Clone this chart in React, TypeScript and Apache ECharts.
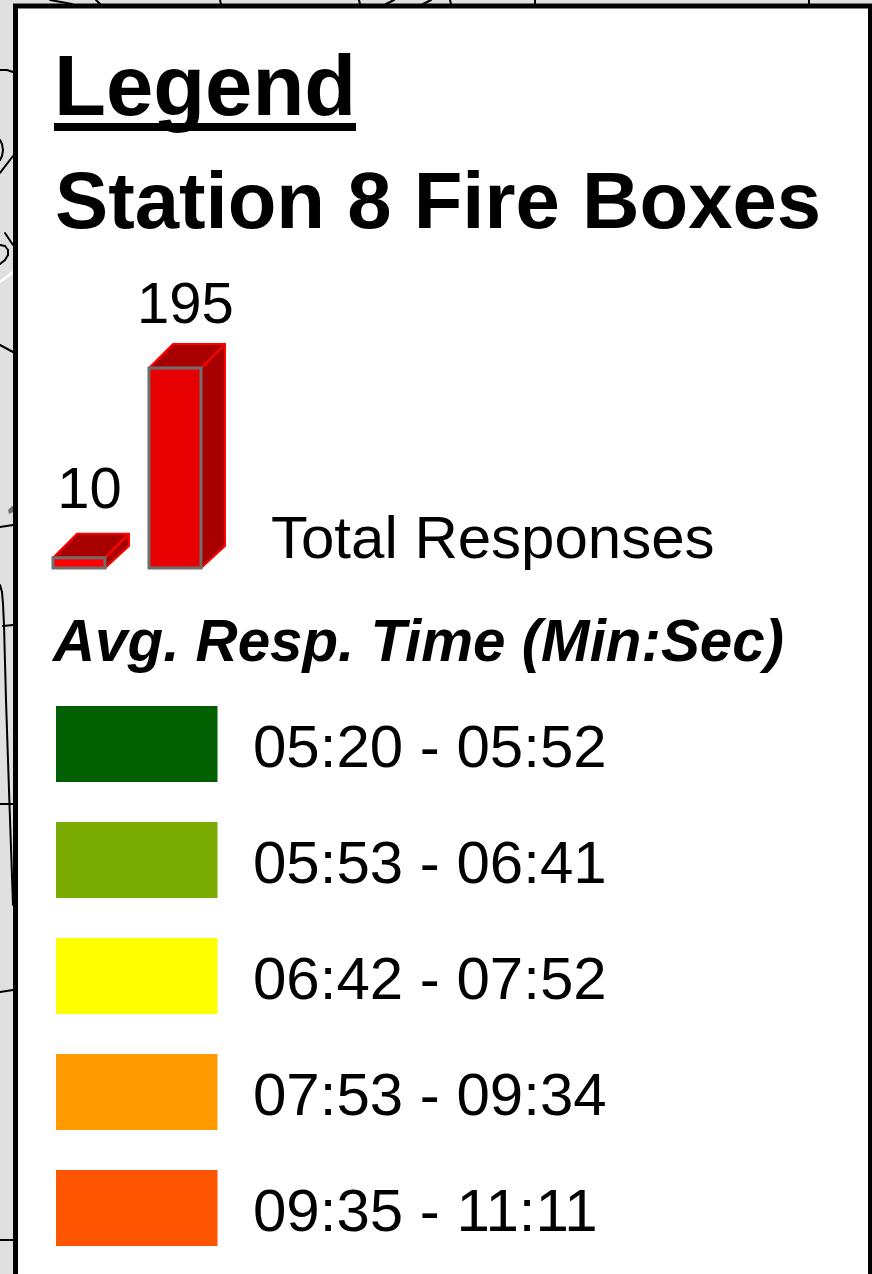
import React, { useEffect, useRef } from "react";
import * as echarts from "echarts";

const W = 872;
const H = 1274;
const FONT = '"Liberation Sans", Arial, sans-serif';

const heading = "Legend";
const subheading = "Station 8 Fire Boxes";
const sizeLabel = "Total Responses";
const timeHeading = "Avg. Resp. Time (Min:Sec)";

const barNames = ["min", "max"];
const barValues = [10, 195];
const barFaces = ["#ff0000", "#e60000"];

const timeRanges = [
  "05:20 - 05:52",
  "05:53 - 06:41",
  "06:42 - 07:52",
  "07:53 - 09:34",
  "09:35 - 11:11",
];
const timeColors = ["#006000", "#7aab00", "#ffff00", "#ff9b00", "#ff5500"];

const mapLines: number[][][] = [
  [[0, 70], [7, 70], [13, 72]],
  [[0, 140], [2, 144], [3, 150], [2, 156], [0, 160]],
  [[0, 173], [13, 156]],
  [[0, 345], [13, 352]],
  [[0, 527], [13, 525]],
  [[0, 585], [2, 592], [3, 604], [4, 625], [6, 700], [9, 790], [13, 905]],
  [[3, 626], [13, 625]],
  [[0, 804], [13, 804]],
  [[0, 992], [13, 990]],
  [[0, 1240], [13, 1240]],
  [[0, 245], [5, 246], [8, 250], [8, 255], [5, 260], [0, 264]],
  [[5, 233], [13, 245]],
  [[50, 0], [72, 4]],
  [[96, 0], [100, 4]],
  [[220, 0], [221, 4]],
  [[359, 0], [360, 4]],
  [[394, 0], [386, 4]],
  [[431, 0], [423, 4]],
  [[450, 0], [451, 4]],
  [[535, 0], [535, 4]],
  [[809, 0], [809, 4]],
];

const text = (
  t: string,
  x: number,
  baseline: number,
  size: number,
  weight = "normal",
  style = "normal"
) => ({
  type: "text",
  x,
  y: baseline - size * 0.36 + 1.5,
  style: {
    text: t,
    fontFamily: FONT,
    fontSize: size,
    fontWeight: weight,
    fontStyle: style,
    fill: "#000",
    align: "left",
    verticalAlign: "middle",
  },
});

const renderBar = (params: any, api: any) => {
  const cat = api.value(0);
  const value = api.value(1);
  const top = api.coord([cat, value]);
  const base = api.coord([cat, 0]);
  const w = api.size([1, 0])[0] * (52 / 96);
  const l = top[0] - w / 2;
  const r = top[0] + w / 2;
  const dx = 24;
  const dy = 24;
  const sideStyle = { fill: "#a80000", stroke: "#ff0000", lineWidth: 2, lineJoin: "round" };
  const labelLift = params.dataIndex === 0 ? 70 : 66;
  return {
    type: "group",
    children: [
      {
        type: "polygon",
        shape: { points: [[r, top[1]], [r + dx, top[1] - dy], [r + dx, base[1] - dy + 2], [r, base[1]]] },
        style: sideStyle,
      },
      {
        type: "polygon",
        shape: { points: [[l, top[1]], [l + dx, top[1] - dy], [r + dx, top[1] - dy], [r, top[1]]] },
        style: sideStyle,
      },
      {
        type: "rect",
        shape: { x: l, y: top[1], width: w, height: base[1] - top[1] },
        style: { fill: barFaces[params.dataIndex], stroke: "#6e6e6e", lineWidth: 3 },
      },
      {
        type: "text",
        x: top[0] + 10.5,
        y: top[1] - labelLift,
        style: {
          text: String(value),
          fontFamily: FONT,
          fontSize: 58,
          fill: "#000",
          align: "center",
          verticalAlign: "middle",
        },
      },
    ],
  };
};

export default function App() {
  const ref = useRef<HTMLDivElement>(null);
  useEffect(() => {
    const chart = echarts.init(ref.current!, null, { renderer: "svg" });
    const graphic: any[] = [
      ...mapLines.flatMap((points) =>
        points.slice(1).map((p, i) => ({
          type: "line",
          shape: { x1: points[i][0], y1: points[i][1], x2: p[0], y2: p[1] },
          style: { stroke: "#000", lineWidth: 2, lineCap: "round" },
        }))
      ),
      {
        type: "line",
        shape: { x1: 0, y1: 282, x2: 13, y2: 272 },
        style: { stroke: "#fff", lineWidth: 2.5 },
      },
      {
        type: "polygon",
        shape: { points: [[8, 510], [12, 506], [13, 506], [13, 512], [9, 514]] },
        style: { fill: "#6e6e6e" },
      },
      {
        type: "rect",
        shape: { x: 15.5, y: 6, width: 855, height: H },
        style: { fill: "#fff", stroke: "#000", lineWidth: 5 },
      },
      text(heading, 54, 115, 85, "bold"),
      { type: "rect", shape: { x: 54, y: 123, width: 302, height: 8 }, style: { fill: "#000" } },
      text(subheading, 55, 228, 79.7, "bold"),
      text(sizeLabel, 271, 558, 60),
      text(timeHeading, 53, 660, 58.3, "bold", "italic"),
      ...timeRanges.flatMap((range, i) => [
        {
          type: "rect",
          shape: { x: 56, y: 706 + i * 116, width: 161.5, height: 76 },
          style: { fill: timeColors[i] },
        },
        text(range, 253, 767 + i * 116, 60),
      ]),
    ];
    chart.setOption({
      animation: false,
      backgroundColor: "#e0e0e0",
      graphic,
      grid: { left: 31, width: 192, top: 368, height: 200 },
      xAxis: { type: "category", data: barNames, show: false },
      yAxis: { type: "value", min: 0, max: 195, show: false },
      series: [
        {
          type: "custom",
          z: 10,
          renderItem: renderBar,
          data: barValues.map((v, i) => [i, v]),
          encode: { x: 0, y: 1 },
          clip: false,
        },
      ],
    });
    return () => chart.dispose();
  }, []);
  return (
    <div
      ref={ref}
      style={{ position: "absolute", left: 0, top: 0, width: W, height: H }}
    />
  );
}
